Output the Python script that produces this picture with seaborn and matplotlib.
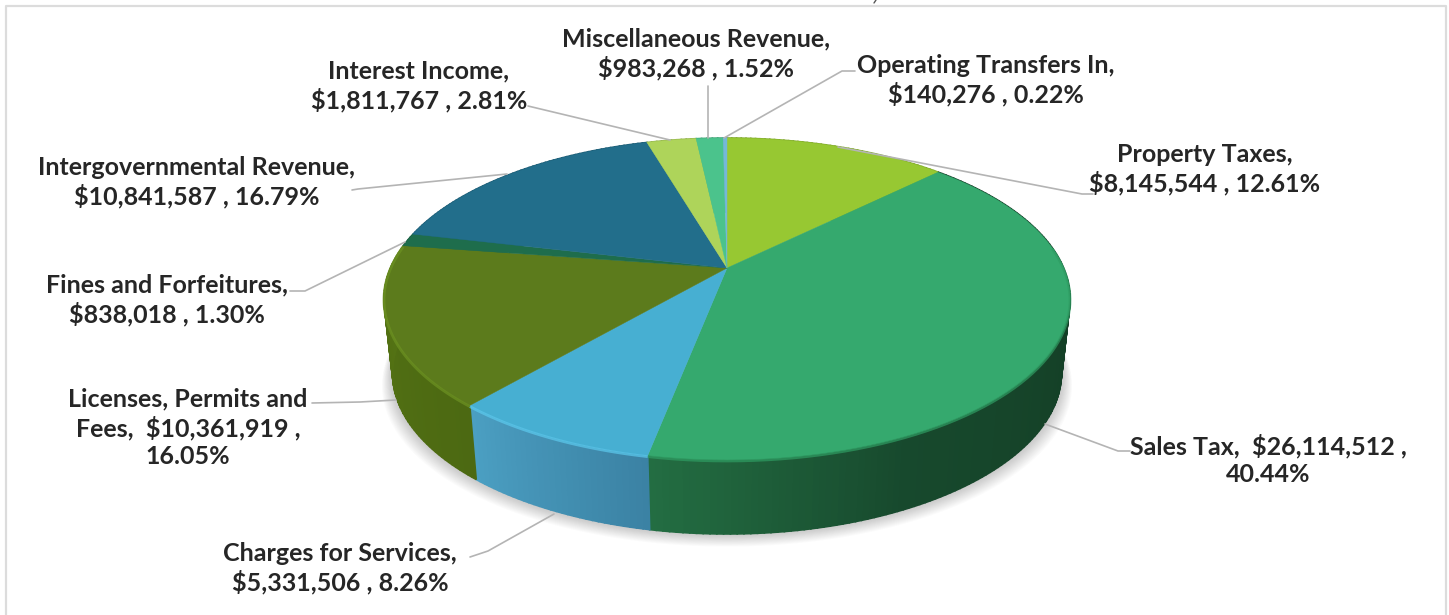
import numpy as np
import matplotlib
matplotlib.use("Agg")
import matplotlib.pyplot as plt
import seaborn as sns

# revenue by source, clockwise from the top of the pie
names = ["Property Taxes", "Sales Tax", "Charges for Services", "Licenses, Permits and Fees",
         "Fines and Forfeitures", "Intergovernmental Revenue", "Interest Income",
         "Miscellaneous Revenue", "Operating Transfers In"]
dollars = [8145544, 26114512, 5331506, 10361919, 838018, 10841587, 1811767, 983268, 140276]
percents = [12.61, 40.44, 8.26, 16.05, 1.30, 16.79, 2.81, 1.52, 0.22]

top_colors = ["#97c832", "#35a96e", "#47afd2", "#5c7b1c", "#1e6d4c", "#226e8b", "#aed45a", "#4bc38c", "#75b8d8"]
side_stops = [["#7fa82a", "#7fa82a"], ["#103a24", "#123c25", "#154228", "#17492d", "#236d42"],
              ["#3b82a4", "#4b9fc2"], ["#4c6912", "#557414"], ["#185a3f", "#185a3f"], ["#1c5b73", "#1c5b73"],
              ["#93b34c", "#93b34c"], ["#3fa476", "#3fa476"], ["#629bb6", "#629bb6"]]
rim_colors = ["#a6d640", "#2f9d63", "#5ccaee", "#6d9222", "#26805a", "#2b7f9e", "#bce068", "#58d09a", "#85c8e6"]

# label text, one string per line
label_fmt = ["{n},\n${d:,} , {p:.2f}%", "{n},  ${d:,} ,\n{p:.2f}%", "{n},\n${d:,} , {p:.2f}%",
             "Licenses, Permits and\nFees,  ${d:,} ,\n{p:.2f}%", "{n},\n${d:,} , {p:.2f}%",
             "{n},\n${d:,} , {p:.2f}%", "{n},\n${d:,} , {p:.2f}%", "{n},\n${d:,} , {p:.2f}%",
             "{n},\n${d:,} , {p:.2f}%"]
label_x = [1205, 1268, 340, 188, 167, 197, 419, 696, 986]
label_y = [169, 460, 568, 428, 300, 182, 86, 54, 80]
leader_x = [[838, 1082, 1093], [1045, 1118, 1130], [554, 488, 470], [396, 360, 312], [405, 305, 290],
            [507, 358, 352], [670, 528], [708, 708], [724, 842, 855]]
leader_y = [[147, 194, 194], [424, 451, 451], [514, 551, 557], [400, 402, 403], [242, 291, 291],
            [174, 189, 190], [140, 106], [138, 86], [138, 71, 71]]

# pie geometry on screen
cx, cy = 727, 268
a, b, k = 155, 336.6, 0.1926
depth = 74
bottom_shrink = 0.975


def project(theta, shrink=1.0, dy=0):
    u, v = np.sin(theta), np.cos(theta)
    return cx + shrink * b * u / (1 + k * v), cy + dy - a * v / (1 + k * v)


sns.set_theme(style="white")
plt.rcParams["font.family"] = ["Lato", "DejaVu Sans"]

fig = plt.figure(figsize=(14.49, 6.15), dpi=100)
ax = fig.add_axes([0, 0, 1, 1])
ax.set_xlim(0, 1449)
ax.set_ylim(615, 0)
ax.axis("off")

# frame, open at the bottom, and the cut off mark above it
ax.plot([6, 6, 1446, 1446], [615, 6, 6, 615], color="#dcdcdc", lw=1.6)
ax.plot([876, 874], [0, 3], color="#555555", lw=1)

# soft shadow under the pie
full = np.linspace(0, 2 * np.pi, 400)
for i in range(14, 0, -1):
    sx, sy = project(full, bottom_shrink + i * 0.0022, depth + i * 0.9)
    ax.fill(sx, sy, color="#555555", alpha=0.022, lw=0)

edges = np.concatenate([[0], np.cumsum(dollars)]) / np.sum(dollars) * 2 * np.pi

# side wall
for i in range(len(dollars)):
    th = np.linspace(edges[i], edges[i + 1], max(int((edges[i + 1] - edges[i]) * 60), 2) + 1)
    shades = sns.blend_palette(side_stops[i], len(th) - 1)
    for j in range(len(th) - 1):
        x1, y1 = project(th[j:j + 2])
        x2, y2 = project(th[j:j + 2], bottom_shrink, depth)
        ax.fill(np.r_[x1, x2[::-1]], np.r_[y1, y2[::-1]], color=shades[j], lw=1.2, zorder=2)

# top face
for i in range(len(dollars)):
    th = np.linspace(edges[i], edges[i + 1], 80)
    x, y = project(th)
    ax.fill(np.r_[cx, x], np.r_[cy, y], color=top_colors[i], lw=0.3, zorder=3)
    # bevel on the front rim
    front = np.cos(th) < 0.15
    if front.any():
        ax.plot(x[front], y[front] + 1, color=rim_colors[i], lw=2.0, alpha=0.7, zorder=4,
                solid_capstyle="butt")

# leader lines and labels
for i in range(len(dollars)):
    ax.plot(leader_x[i], leader_y[i], color="#b4b4b4", lw=1.2, zorder=5)
    ax.text(label_x[i], label_y[i], label_fmt[i].format(n=names[i], d=dollars[i], p=percents[i]),
            ha="center", va="center", fontsize=18, fontweight="bold", color="#262626",
            linespacing=1.25, zorder=6)

fig.savefig("out.png", dpi=100)
